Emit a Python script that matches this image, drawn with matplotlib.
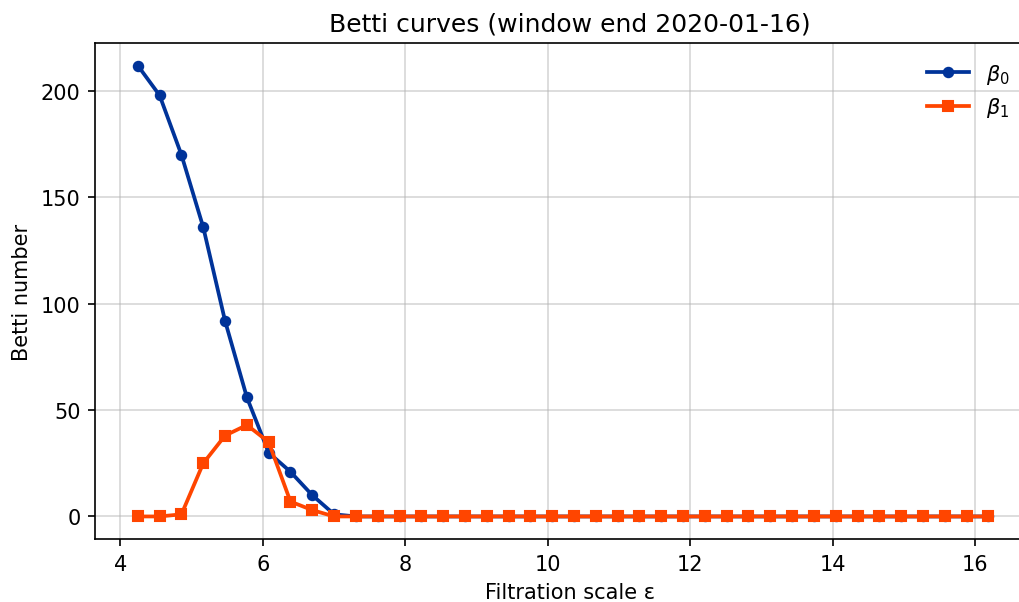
import numpy as np
import matplotlib
matplotlib.use('Agg')
import matplotlib.pyplot as plt

# filtration scales
eps = [4.243, 4.549, 4.856, 5.162, 5.468, 5.775, 6.081, 6.387, 6.693, 7.000,
       7.306, 7.612, 7.919, 8.225, 8.531, 8.838, 9.144, 9.450, 9.756, 10.063,
       10.369, 10.675, 10.982, 11.288, 11.594, 11.901, 12.207, 12.513, 12.819, 13.126,
       13.432, 13.738, 14.045, 14.351, 14.657, 14.964, 15.270, 15.576, 15.882, 16.189]

beta0 = [212, 198, 170, 136, 92, 56, 30, 21, 10, 1] + [0] * 30
beta1 = [0, 0, 1, 25, 38, 43, 35, 7, 3, 0] + [0] * 30

title = 'Betti curves (window end 2020-01-16)'

fig = plt.figure(figsize=(1019 / 150, 603 / 150), dpi=150)
# axes runs past the right edge, like the cropped original
ax = fig.add_axes([95 / 1019, 1 - 540 / 603, 950 / 1019, 496 / 603])

ax.plot(eps, beta0, '-o', color='#003399', lw=1.8, ms=4.5, label=r'$\beta_0$')
ax.plot(eps, beta1, '-s', color='#ff4500', lw=1.8, ms=4.5, label=r'$\beta_1$')

ax.set_xlim(3.642, 16.983)
ax.set_ylim(-10.6, 222.6)
ax.set_xticks([4, 6, 8, 10, 12, 14, 16])
ax.set_yticks([0, 50, 100, 150, 200])
ax.grid(True, color='#b0b0b0', alpha=0.5, lw=0.8)
ax.tick_params(labelsize=10)

ax.set_xlabel('Filtration scale ε', fontsize=10)
ax.set_ylabel('Betti number', fontsize=10)
ax.set_title(title, fontsize=12)
# legend sits inside the visible part of the figure
ax.legend(loc='upper right', bbox_to_anchor=(1 + 9 / 1019, 1 - 44 / 603),
          bbox_transform=fig.transFigure, frameon=False, fontsize=10,
          labelspacing=0.45)

fig.savefig('out.png', dpi=150)
